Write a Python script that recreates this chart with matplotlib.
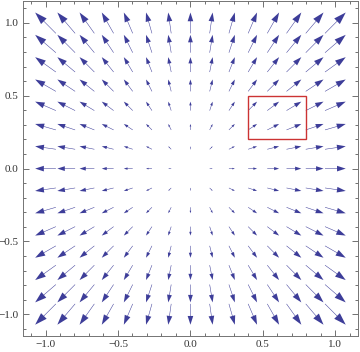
import numpy as np
import matplotlib.pyplot as plt
from matplotlib.patches import Rectangle

# sample points of the vector plot (15 x 15 grid)
grid = [-1.0, -0.857, -0.714, -0.571, -0.429, -0.286, -0.143, 0.0,
        0.143, 0.286, 0.429, 0.571, 0.714, 0.857, 1.0]
# field is radial: F(x, y) = (x, y)
field_x = grid
field_y = grid

# highlighted box
box_x = [0.4, 0.8]
box_y = [0.2, 0.5]

arrow_color = (0.24, 0.24, 0.6)
step = grid[1] - grid[0]

plt.rcParams['font.family'] = ['Liberation Serif', 'DejaVu Serif']
fig = plt.figure(figsize=(3.6, 3.52), dpi=100)
ax = fig.add_axes([0.064, 0.045, 0.93, 0.952])

for i, x in enumerate(grid):
  for j, y in enumerate(grid):
    u, v = field_x[i], field_y[j]
    mag = np.hypot(u, v)
    if mag == 0:
      continue
    dx, dy = u * step, v * step
    L = mag * step
    ax.arrow(x - dx / 2, y - dy / 2, dx, dy, length_includes_head=True,
             width=0.0035, head_width=0.27 * L, head_length=0.42 * L,
             color=arrow_color, lw=0)

ax.add_patch(Rectangle((box_x[0], box_y[0]), box_x[1] - box_x[0],
                       box_y[1] - box_y[0], fill=False,
                       edgecolor=(0.8, 0.2, 0.2), lw=1.0))

ax.set_xlim(-1.155, 1.155)
ax.set_ylim(-1.15, 1.15)
ticks = [-1.0, -0.5, 0.0, 0.5, 1.0]
ax.set_xticks(ticks)
ax.set_yticks(ticks)
ax.set_xticklabels(['\u22121.0', '\u22120.5', '0.0', '0.5', '1.0'])
ax.set_yticklabels(['\u22121.0', '\u22120.5', '0.0', '0.5', '1.0'])
ax.set_xticks(np.arange(-1.1, 1.15, 0.1), minor=True)
ax.set_yticks(np.arange(-1.1, 1.15, 0.1), minor=True)
ax.tick_params(which='both', direction='in', top=True, right=True,
               color='0.35', labelsize=8, labelcolor='0.2', width=0.6)
ax.tick_params(which='major', length=4.5, pad=3)
ax.tick_params(which='minor', length=2.5)
for s in ax.spines.values():
  s.set_color('0.45')
  s.set_linewidth(0.7)

fig.savefig('out.png', dpi=100)
